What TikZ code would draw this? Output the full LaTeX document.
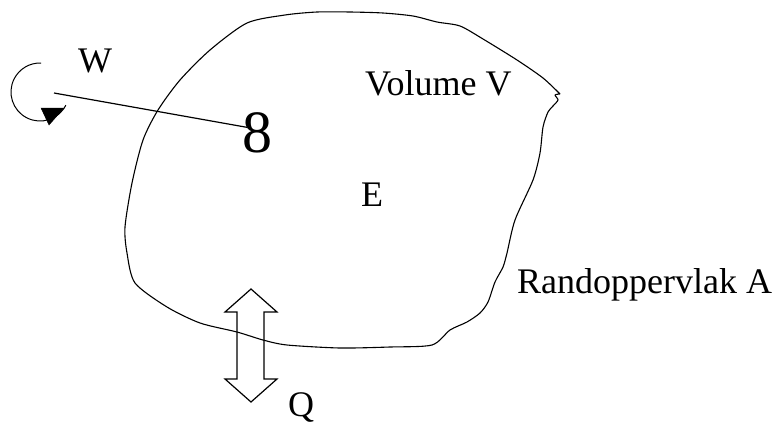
\documentclass[tikz,border=0pt]{standalone}
\usepackage{fontspec}
\setmainfont{Liberation Serif}
\usetikzlibrary{positioning}
\begin{document}
\begin{tikzpicture}[x=1pt,y=-1pt,
		lbl/.style={font=\fontsize{36}{40}\selectfont,inner sep=0pt,anchor=base west},
		rand/.style={line width=1.1pt,line join=round}]
			\useasboundingbox (0,0) rectangle (778,423);
			
			% randoppervlak
			\draw[rand] plot[smooth,tension=0.45] coordinates {(560,94) (555,95) (558,100) (553,106) (548,112) (543,127) (540,153) (533,180) (515,220) (507,253) (503,267) (495,282) (488,302) (480,313) (467,322) (450,330) (432,345) (390,347) (340,348) (287,345) (263,340) (237,332) (200,323) (167,307) (135,283) (127,253) (125,227) (132,183) (143,140) (158,110) (180,80) (210,50) (247,23) (285,15) (317,12) (350,12) (383,13) (413,16) (437,22) (460,26) (483,39) (517,60) (543,78) (560,94)};
			
			% teksten
			\node[lbl] (vol) at (365,95) {Volume V};
			\node[lbl] (energie) at (361,206) {E};
			\node[lbl] (randA) at (517,293) {Randoppervlak A};
			\node[lbl] (arbeid) at (78,72) {W};
			\node[lbl] (warmte) at (288,416) {Q};
			\node[lbl,font=\fontsize{60}{64}\selectfont] (eight) at (242,152) {8};
			
			% as met draairichting
			\coordinate (spin) at (54,93);
			\draw[line width=1.2pt] (spin) -- ([shift={(5,-5)}]eight.west);
			\draw[line width=1pt] (40,92) ++(27:29) arc[start angle=27,end angle=272,radius=29];
			\filldraw (41,108) -- (64,108) -- (49,125) -- cycle;
			
			% warmtestroom
			\draw[line width=1.2pt,line join=miter] (251,289) -- (277,312) -- (264,312) -- (264,379) -- (277,379)
				-- (251,402) -- (225,379) -- (237,379) -- (237,312) -- (225,312) -- cycle;
		\end{tikzpicture}
\end{document}
